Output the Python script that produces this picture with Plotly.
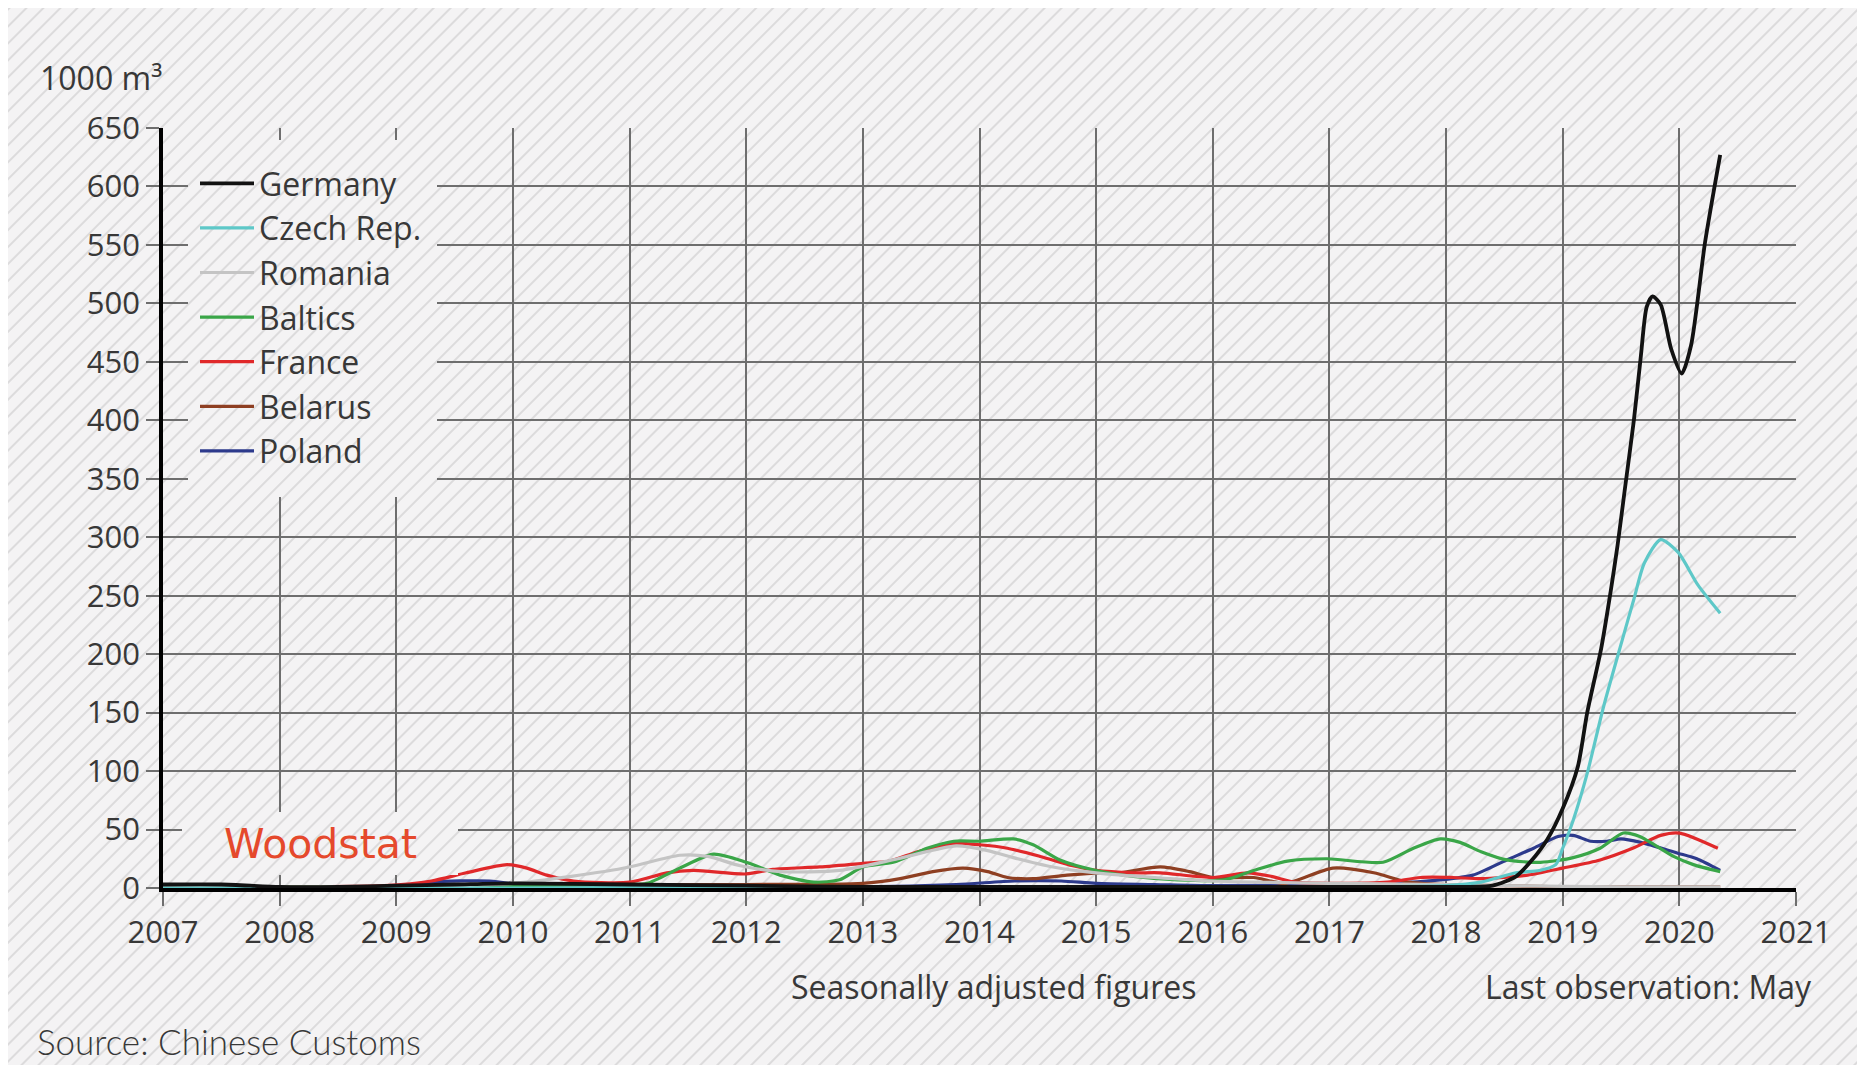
import base64
import plotly.graph_objects as go

# ---------------- data ----------------
germany_x = [2007.0, 2007.5, 2008.0, 2008.5, 2009.0, 2009.5, 2010.0, 2011.0, 2012.0, 2013.0, 2014.0,
             2015.0, 2016.0, 2017.0, 2018.0, 2018.4, 2018.6, 2018.72, 2018.87, 2019.0, 2019.13,
             2019.21, 2019.33, 2019.41, 2019.47, 2019.53, 2019.61, 2019.67, 2019.72, 2019.77,
             2019.84, 2019.93, 2020.02, 2020.1, 2020.22, 2020.35]
germany_y = [3, 3, 1, 1, 2, 3, 4, 3, 2, 1, 1, 1, 1, 1, 1, 2, 10, 22, 42, 68, 104, 150, 205, 253, 293,
             339, 400, 455, 497, 506, 499, 461, 440, 464, 552, 627]

czech_x = [2007.0, 2010.0, 2013.0, 2016.0, 2018.0, 2018.3, 2018.6, 2018.8, 2018.94, 2019.0, 2019.09,
           2019.21, 2019.35, 2019.51, 2019.61, 2019.7, 2019.84, 2019.99, 2020.16, 2020.35]
czech_y = [0, 0, 1, 1, 2, 5, 13, 15, 20, 34, 58, 98, 155, 212, 247, 278, 298, 287, 259, 235]

romania_x = [2007.0, 2009.0, 2010.0, 2010.5, 2011.0, 2011.43, 2011.67, 2011.95, 2012.3, 2012.8,
             2013.3, 2013.8, 2014.07, 2014.29, 2014.63, 2015.0, 2015.5, 2016.0, 2017.0, 2018.0,
             2018.5, 2019.5, 2020.35]
romania_y = [1, 1, 4, 10, 18, 28, 27, 19, 14, 15, 25, 36, 32, 26, 18, 13, 9, 6, 4, 3, 2, 1, 1]

baltics_x = [2007.0, 2009.0, 2010.0, 2011.0, 2011.15, 2011.43, 2011.72, 2012.0, 2012.29, 2012.58,
             2012.8, 2013.0, 2013.26, 2013.55, 2013.78, 2014.0, 2014.29, 2014.46, 2014.69, 2015.0,
             2015.32, 2015.7, 2016.1, 2016.35, 2016.64, 2016.98, 2017.46, 2017.72, 2017.95,
             2018.12, 2018.3, 2018.52, 2018.81, 2019.09, 2019.32, 2019.52, 2019.66, 2019.95,
             2020.12, 2020.35]
baltics_y = [1, 1, 2, 3, 4, 17, 29, 22, 11, 5, 7, 18, 22, 34, 40, 40, 42, 37, 24, 15, 10, 7, 7, 15,
             23, 25, 22, 34, 42, 39, 31, 24, 22, 26, 34, 47, 44, 27, 20, 14]

france_x = [2007.0, 2008.0, 2008.9, 2009.3, 2009.6, 2009.95, 2010.12, 2010.29, 2010.52, 2011.0,
            2011.32, 2011.55, 2012.0, 2012.23, 2012.63, 2013.0, 2013.23, 2013.47, 2013.78, 2014.0,
            2014.24, 2014.52, 2014.8, 2015.0, 2015.32, 2015.55, 2016.0, 2016.3, 2016.5, 2016.7,
            2017.03, 2017.5, 2017.78, 2018.06, 2018.3, 2018.7, 2019.0, 2019.32, 2019.6, 2019.84,
            2020.0, 2020.33]
france_y = [1, 1, 2, 6, 13, 20, 17, 11, 6, 5, 13, 15, 12, 16, 18, 21, 23, 31, 38, 37, 34, 27, 19,
            15, 13, 13, 9, 13, 10, 5, 4, 5, 9, 9, 8, 11, 17, 24, 34, 45, 47, 34]

belarus_x = [2007.0, 2009.0, 2010.0, 2011.0, 2012.0, 2013.0, 2013.32, 2013.6, 2013.86, 2014.07,
             2014.24, 2014.46, 2014.75, 2015.05, 2015.2, 2015.55, 2015.8, 2016.0, 2016.35, 2016.62,
             2017.03, 2017.38, 2017.67, 2018.0, 2018.5, 2019.0, 2020.35]
belarus_y = [1, 1, 2, 3, 3, 4, 8, 14, 17, 14, 9, 8, 11, 13, 13, 18, 14, 9, 9, 4, 17, 13, 5, 3, 2,
             1, 1]

poland_x = [2007.0, 2008.0, 2009.0, 2009.3, 2009.8, 2010.2, 2011.0, 2012.0, 2013.0, 2013.8, 2014.3,
            2014.7, 2015.0, 2015.5, 2016.0, 2017.0, 2017.5, 2017.95, 2018.23, 2018.52, 2018.75,
            2018.96, 2019.09, 2019.24, 2019.38, 2019.5, 2019.67, 2019.98, 2020.15, 2020.35]
poland_y = [1, 1, 1, 5, 6, 1, 2, 2, 1, 3, 6, 6, 4, 3, 2, 3, 4, 7, 11, 24, 34, 44, 45, 40, 40, 42,
            39, 30, 25, 15]

series_names = ["Germany", "Czech Rep.", "Romania", "Baltics", "France", "Belarus", "Poland"]
series_x = [germany_x, czech_x, romania_x, baltics_x, france_x, belarus_x, poland_x]
series_y = [germany_y, czech_y, romania_y, baltics_y, france_y, belarus_y, poland_y]
series_colors = ["#121212", "#5ec8c8", "#c4c4c4", "#3aa648", "#e0282a", "#8e3f22", "#2d3a8c"]

year_ticks = list(range(2007, 2022))
year_labels = [str(y) for y in year_ticks]
value_ticks = list(range(0, 651, 50))
value_labels = [str(v) for v in value_ticks]

# ---------------- geometry (figure pixel coords; page adds an 8px body margin) ----------------
W, H = 1857, 1057
L, T = 155, 120
R = W - 1788
B = H - 880
PW, PH = W - L - R, H - T - B


def px(x):
    return (x - L) / PW


def py(y):
    return (H - B - y) / PH


FONT = "'Open Sans', Lato, sans-serif"
TXT = "#383838"
BG = "#f4f3f4"
HATCH = "#cfcecf"


def hatch_uri(x0, y0, w, h):
    """Hatched paper texture (SVG) cropped to a window of the figure, aligned to the full page."""
    svg = (
        f'<svg xmlns="http://www.w3.org/2000/svg" width="{w}" height="{h}" '
        f'viewBox="{x0} {y0} {w} {h}" preserveAspectRatio="none">'
        '<defs><pattern id="h" width="12" height="12" patternUnits="userSpaceOnUse" '
        'patternTransform="rotate(45)">'
        f'<rect width="12" height="12" fill="{BG}"/>'
        f'<line x1="1" y1="0" x2="1" y2="12" stroke="{HATCH}" stroke-width="1.3"/>'
        '</pattern></defs>'
        f'<rect x="0" y="0" width="{W}" height="{H}" fill="url(#h)"/></svg>'
    )
    return "data:image/svg+xml;base64," + base64.b64encode(svg.encode()).decode()


def hatch_image(x0, y0, w, h, layer):
    return dict(
        source=hatch_uri(x0, y0, w, h), xref="paper", yref="paper",
        x=px(x0), y=py(y0), sizex=w / PW, sizey=h / PH,
        xanchor="left", yanchor="top", sizing="stretch", layer=layer,
    )


fig = go.Figure()
order = list(range(len(series_names)))[::-1]  # draw Germany last (on top)
for i in order:
    fig.add_trace(go.Scatter(
        x=series_x[i], y=series_y[i], name=series_names[i], mode="lines",
        line=dict(color=series_colors[i], width=3.8 if i == 0 else 3.2,
                  shape="spline", smoothing=0.7),
        legendrank=i + 1,
    ))

fig.update_layout(
    width=W, height=H,
    margin=dict(l=L, r=R, t=T, b=B, autoexpand=False),
    paper_bgcolor="white",
    plot_bgcolor="rgba(0,0,0,0)",
    font=dict(family=FONT, size=31, color=TXT),
    showlegend=True,
    legend=dict(
        x=px(187), y=py(148), xanchor="left", yanchor="top",
        bgcolor="rgba(0,0,0,0)", borderwidth=0, traceorder="normal",
        font=dict(family=FONT, size=32, color=TXT),
        itemwidth=54,
    ),
    images=[
        hatch_image(0, 0, W, H, "below"),
        hatch_image(180, 132, 249, 357, "above"),   # legend panel
        hatch_image(174, 804, 276, 63, "above"),    # logo panel
    ],
    xaxis=dict(
        range=[2007, 2021], tickvals=year_ticks, ticktext=year_labels,
        showgrid=True, gridcolor="#6e6e6e", gridwidth=2,
        ticks="outside", ticklen=14, tickwidth=2, tickcolor="#6e6e6e",
        showline=True, linecolor="#000000", linewidth=3.5,
        zeroline=False, tickfont=dict(family=FONT, size=31, color=TXT),
    ),
    yaxis=dict(
        range=[0, 650], tickvals=value_ticks, ticktext=value_labels,
        showgrid=True, gridcolor="#6e6e6e", gridwidth=2,
        ticks="outside", ticklen=13, tickwidth=2, tickcolor="#6e6e6e",
        showline=True, linecolor="#000000", linewidth=3.5,
        zeroline=False, tickfont=dict(family=FONT, size=31, color=TXT),
    ),
)

annotations = [
    dict(text="1000 m³", x=px(30), y=py(70), xanchor="left", yanchor="middle",
         font=dict(family=FONT, size=32, color=TXT)),
    dict(text="Woodstat", x=px(312), y=py(836), xanchor="center", yanchor="middle",
         font=dict(family="'DejaVu Sans', sans-serif", size=41, color="#e5492c")),
    dict(text="Seasonally adjusted figures", x=px(985), y=py(978), xanchor="center",
         yanchor="middle", font=dict(family=FONT, size=32, color=TXT)),
    dict(text="Last observation: May", x=px(1806), y=py(978), xanchor="right",
         yanchor="middle", font=dict(family=FONT, size=32, color=TXT)),
    dict(text="Source: Chinese Customs", x=px(27), y=py(1033), xanchor="left",
         yanchor="middle", font=dict(family="Lato, sans-serif", size=35, color=TXT, weight=300)),
]
for a in annotations:
    a.update(xref="paper", yref="paper", showarrow=False)
fig.update_layout(annotations=annotations)

fig.write_html("out.html")
